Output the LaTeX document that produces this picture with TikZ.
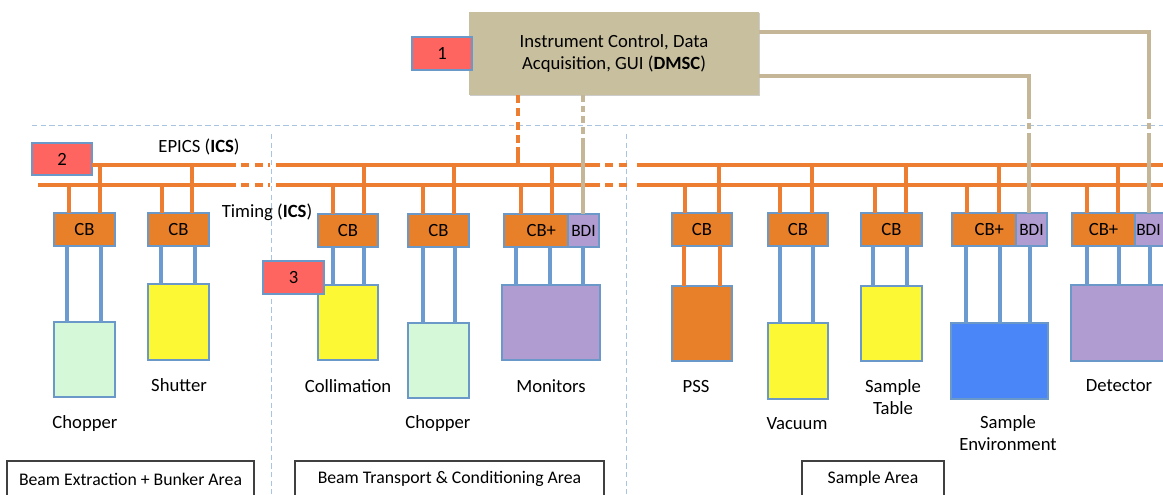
\documentclass[tikz,border=0pt]{standalone}
\usepackage{fontspec}
\setmainfont{Carlito}
\usetikzlibrary{shadows}
\definecolor{orng}{HTML}{ED7D31}
\definecolor{cbfill}{HTML}{E8802A}
\definecolor{bdr}{HTML}{6A98C8}
\definecolor{bline}{HTML}{6C9BD2}
\definecolor{tanf}{HTML}{C8BF9F}
\definecolor{tanl}{HTML}{C4B697}
\definecolor{redf}{HTML}{FE6560}
\definecolor{grn}{HTML}{D5F9D8}
\definecolor{yel}{HTML}{FCF834}
\definecolor{purp}{HTML}{B09CD1}
\definecolor{sblue}{HTML}{4A86F7}
\definecolor{divc}{HTML}{A9C4E0}
\newcommand\rbox[7]{\node[#2,anchor=north west,minimum width={(#5-#3)*0.75pt},minimum height={(#6-#4)*0.75pt}] (#1) at (#3,#4) {#7};}
\begin{document}
\begin{tikzpicture}[x=0.75pt,y=-0.75pt,
  every node/.style={font=\fontsize{14}{17}\selectfont, inner sep=0pt, outer sep=0pt},
  box/.style={draw=bdr, line width=1.2pt, drop shadow={shadow xshift=1pt, shadow yshift=-1pt, opacity=0.2, fill=black}},
  cbbox/.style={box, fill=cbfill},
  bdibox/.style={box, fill=purp, font=\fontsize{13}{15}\selectfont},
  redbox/.style={box, fill=redf},
  grnbox/.style={box, fill=grn},
  yelbox/.style={box, fill=yel},
  purbox/.style={box, fill=purp},
  orbox/.style={box, fill=cbfill},
  sebox/.style={box, fill=sblue},
  dmscbox/.style={box, draw=none, fill=tanf, align=center},
  areab/.style={draw=black!75, line width=0.8pt, fill=white, font=\fontsize{13.3}{16}\selectfont},
  lbl/.style={align=center},
  orl/.style={draw=orng, line width=2.5pt},
  ordash/.style={orl, dash pattern=on 6pt off 4pt},
  bl/.style={draw=bline, line width=2.5pt},
  tl/.style={draw=tanl, line width=2.4pt},
  tdash/.style={tl, dash pattern=on 5pt off 3pt},
  divl/.style={draw=divc, line width=0.7pt, dash pattern=on 4pt off 2.5pt}]
\useasboundingbox (0,0) rectangle (1163,494);
\clip (0,0) rectangle (1163,494);

% dividers
\draw[divl] (32,125) -- (1163,125);
\draw[divl] (271,134) -- (271,494);
\draw[divl] (626,134) -- (626,494);

% DMSC and label 1
\rbox{dmsc}{dmscbox}{469}{12}{759}{95}{Instrument Control, Data\\Acquisition, GUI (\textbf{DMSC})}
\rbox{r1}{redbox}{412}{37}{472}{70}{1}

% red box 2 and bus lines
\rbox{r2}{redbox}{32}{143}{92}{175}{2}
\draw[orl] (r2.east |- 0,165) -- (228,165);
\draw[ordash] (228,165) -- (270,165);
\draw[orl] (38,185) -- (228,185);
\draw[ordash] (228,185) -- (270,185);
\draw[orl] (276,165) -- (592,165);
\draw[ordash] (592,165) -- (627,165);
\draw[orl] (276,185) -- (592,185);
\draw[ordash] (592,185) -- (627,185);
\draw[orl] (637,165) -- (1170,165);
\draw[orl] (637,185) -- (1170,185);
\coordinate (ep) at (0,165);
\coordinate (tm) at (0,185);

\node (epics) at (199,147) {EPICS (\textbf{ICS})};
\node (timing) at (267,212) {Timing (\textbf{ICS})};

% DMSC dashed link to EPICS
\draw[ordash] (dmsc.south -| 518,0) -- (518,147);
\draw[orl] (518,147) -- (ep -| 518,0);

% control boxes
\rbox{cb1}{cbbox}{54}{213}{115}{246}{CB}
\rbox{cb2}{cbbox}{148}{213}{209}{246}{CB}
\rbox{cb3}{cbbox}{318}{214}{378}{247}{CB}
\rbox{cb4}{cbbox}{408}{214}{469}{247}{CB}
\rbox{cb5}{cbbox}{504}{214}{568}{247}{\hspace*{8pt}CB+}
\rbox{bdi1}{bdibox}{568}{214}{599}{247}{BDI}
\rbox{cb6}{cbbox}{672}{213}{732}{246}{CB}
\rbox{cb7}{cbbox}{768}{213}{828}{246}{CB}
\rbox{cb8}{cbbox}{861}{213}{922}{246}{CB}
\rbox{cb9}{cbbox}{952}{213}{1016}{246}{\hspace*{8pt}CB+}
\rbox{bdi2}{bdibox}{1016}{213}{1047}{246}{BDI}
\rbox{cb10}{cbbox}{1072}{213}{1135}{246}{CB+}
\rbox{bdi3}{bdibox}{1135}{213}{1166}{246}{\hspace*{-3pt}BDI}

% drops from buses
\foreach \n/\t/\e in {cb1/69/100, cb2/162/192, cb3/333/364, cb4/423/454, cb5/521/552, cb6/685/719, cb7/780/812, cb8/875/906, cb9/967/999, cb10/1087/1118}{
  \draw[orl] (\n.north -| \t,0) -- (tm -| \t,0);
  \draw[orl] (\n.north -| \e,0) -- (ep -| \e,0);
}

% tan links
\draw[tdash] (dmsc.south -| 583,0) -- (583,140);
\draw[tl] (583,140) -- (bdi1.north -| 583,0);
\draw[tl] (dmsc.east |- 0,76) -| (1029,112);
\draw[tdash] (1029,112) -- (1029,138);
\draw[tl] (1029,138) -- (bdi2.north -| 1029,0);
\draw[tl] (dmsc.east |- 0,32) -| (1149,112);
\draw[tdash] (1149,112) -- (1149,138);
\draw[tl] (1149,138) -- (bdi3.north -| 1149,0);

% devices
\rbox{chop1}{grnbox}{54}{322}{115}{397}{}
\rbox{shut}{yelbox}{148}{284}{209}{360}{}
\rbox{coll}{yelbox}{318}{285}{378}{360}{}
\rbox{chop2}{grnbox}{408}{323}{469}{398}{}
\rbox{mon}{purbox}{502}{285}{600}{360}{}
\rbox{pss}{orbox}{672}{286}{732}{361}{}
\rbox{vac}{yelbox}{768}{323}{828}{399}{}
\rbox{stab}{yelbox}{861}{286}{922}{361}{}
\rbox{senv}{sebox}{951}{323}{1048}{399}{}
\rbox{det}{purbox}{1071}{285}{1180}{361}{}

% connections from control boxes to devices
\foreach \a/\b/\x in {cb1/chop1/67, cb1/chop1/101, cb2/shut/161, cb2/shut/195, cb3/coll/333, cb3/coll/364, cb4/chop2/423, cb4/chop2/455, cb5/mon/516, cb5/mon/550, bdi1/mon/583, cb7/vac/780, cb7/vac/813, cb8/stab/873, cb8/stab/907, cb9/senv/966, cb9/senv/1000, bdi2/senv/1030, cb10/det/1087, cb10/det/1119, bdi3/det/1150}{
  \draw[bl] (\a.south -| \x,0) -- (\b.north -| \x,0);
}
\foreach \x in {684,720}{
  \draw[orl] (cb6.south -| \x,0) -- (pss.north -| \x,0);
}
\rbox{r3}{redbox}{263}{261}{324}{294}{3}

% labels
\node[lbl] (lchop1) at (85,424) {Chopper};
\node[lbl] (lshut) at (179,385) {Shutter};
\node[lbl] (lcoll) at (348,386) {Collimation};
\node[lbl] (lchop2) at (438,424) {Chopper};
\node[lbl] (lmon) at (551,386) {Monitors};
\node[lbl] (lpss) at (696,386) {PSS};
\node[lbl] (lvac) at (797,424) {Vacuum};
\node[lbl] (lstab) at (893,397) {Sample\\Table};
\node[lbl] (lsenv) at (1008,433) {Sample\\Environment};
\node[lbl] (ldet) at (1119,386) {Detector};

% area boxes
\rbox{a1}{areab}{7}{461}{254}{497}{Beam Extraction + Bunker Area}
\rbox{a2}{areab}{295}{461}{604}{497}{Beam Transport \& Conditioning Area}
\rbox{a3}{areab}{802}{461}{944}{497}{Sample Area}
\end{tikzpicture}
\end{document}
